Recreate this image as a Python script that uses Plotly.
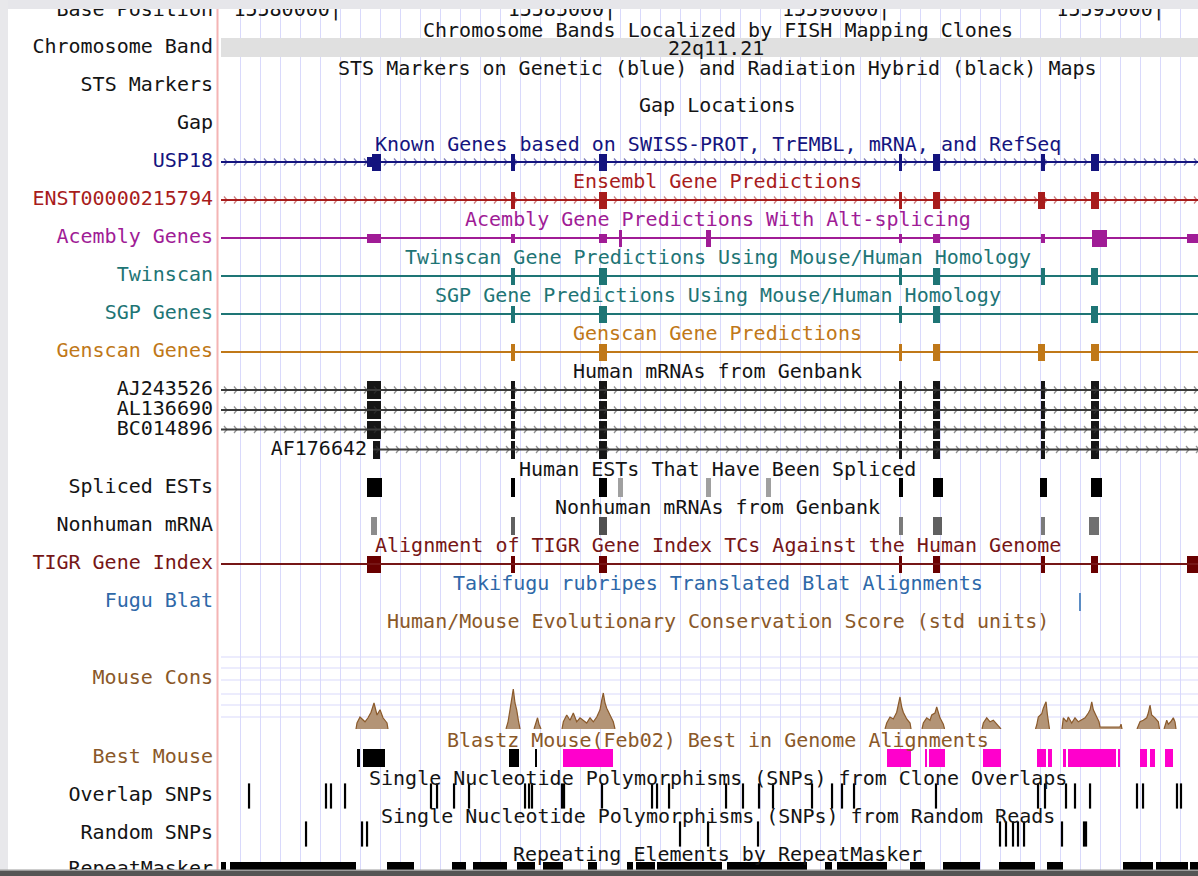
import plotly.graph_objects as go

# ---------------- page geometry ----------------
FIG_W, FIG_H = 1198, 876
PANEL_PX = 221            # first pixel column of the track panel
LABEL_RIGHT_PX = 213      # labels are right-aligned here
TITLE_CENTER_PX = 717.5   # track titles are centred here
X_LEFT, X_RIGHT = 15577907, 15595716          # chr22 window shown (bp)
BP_PER_PX = (X_RIGHT - X_LEFT) / (FIG_W - PANEL_PX)

FONT = "DejaVu Sans Mono"
FS = 20

INK = "#141414"
NAVY = "#14147e"
ENS = "#a81c1c"
ACE = "#a01c96"
TEAL = "#1e7575"
GSC = "#c07818"
TIGR = "#761616"
FUGU = "#2e68a8"
BROWN = "#8a5828"
GRID = "#d9d9fb"
MAGENTA = "#ff00cc"

# ---------------- data ----------------
ruler_ticks = [15580000, 15585000, 15590000, 15595000]
band_name = "22q11.21"
band_span = [15570000, 15600000]

# Known Genes: USP18 (thin = UTR, thick = CDS)
usp18_span = [15577000, 15597000]
usp18_starts = [15580569, 15580660, 15583194, 15584798, 15590266, 15590886, 15592854, 15593766]
usp18_ends = [15580660, 15580824, 15583267, 15584943, 15590321, 15591013, 15592927, 15593912]
usp18_thick = [0, 1, 1, 1, 1, 1, 1, 1]

# Ensembl prediction ENST00000215794
ens_span = [15577000, 15597000]
ens_starts = [15583194, 15584798, 15590266, 15590886, 15592800, 15593766]
ens_ends = [15583267, 15584943, 15590321, 15591013, 15592927, 15593912]

# Acembly (alt-spliced)
ace_span = [15577000, 15597000]
ace_starts = [15580569, 15583194, 15584798, 15585162, 15586748, 15590266, 15590886, 15592854, 15593784, 15595516]
ace_ends = [15580824, 15583267, 15584943, 15585217, 15586839, 15590321, 15591013, 15592927, 15594057, 15595900]
ace_thick = [0, 0, 0, 1, 1, 0, 0, 0, 1, 0]

# Twinscan
twin_span = [15577000, 15597000]
twin_starts = [15583194, 15584798, 15590266, 15590886, 15592854, 15593766]
twin_ends = [15583267, 15584943, 15590321, 15591013, 15592927, 15593893]

# SGP
sgp_span = [15577000, 15597000]
sgp_starts = [15583194, 15584798, 15590266, 15590886, 15593766]
sgp_ends = [15583267, 15584943, 15590321, 15591013, 15593893]

# Genscan
gsc_span = [15577000, 15597000]
gsc_starts = [15583194, 15584798, 15590266, 15590886, 15592800, 15593766]
gsc_ends = [15583267, 15584943, 15590321, 15591013, 15592927, 15593912]

# Human mRNAs from Genbank
mrna_names = ["AJ243526", "AL136690", "BC014896"]
mrna_span = [15577000, 15597000]
mrna_starts = [15580569, 15583194, 15584798, 15590266, 15590886, 15592854, 15593766]
mrna_ends = [15580824, 15583267, 15584943, 15590321, 15591013, 15592927, 15593912]
af_name = "AF176642"
af_span = [15580678, 15597000]
af_starts = [15580678, 15583194, 15584798, 15590266, 15590886, 15592854, 15593766]
af_ends = [15580806, 15583267, 15584943, 15590321, 15591013, 15592927, 15593912]

# Spliced ESTs (shade = depth)
est_starts = [15580569, 15583194, 15584798, 15585144, 15586748, 15587842, 15590266, 15590886, 15592836, 15593766]
est_ends = [15580842, 15583267, 15584943, 15585235, 15586839, 15587933, 15590339, 15591068, 15592964, 15593966]
est_shade = ["#000000", "#000000", "#000000", "#a0a0a0", "#a0a0a0", "#a0a0a0", "#000000", "#000000", "#000000", "#000000"]

# Nonhuman mRNAs
nh_starts = [15580642, 15583194, 15584798, 15590266, 15590886, 15592854, 15593729]
nh_ends = [15580751, 15583267, 15584943, 15590339, 15591050, 15592927, 15593912]
nh_shade = ["#8c8c8c", "#606060", "#505050", "#7a7a7a", "#606060", "#7a7a7a", "#707070"]

# TIGR Gene Index
tigr_span = [15577000, 15597000]
tigr_starts = [15580569, 15583194, 15584798, 15590266, 15590886, 15592854, 15593766, 15595516]
tigr_ends = [15580824, 15583267, 15584943, 15590321, 15591013, 15592927, 15593893, 15595900]

# Fugu translated Blat hit
fugu_hits = [15593565]

# Human/Mouse conservation score (std units); None separates runs
cons_pos = [
    15580368, 15580386, 15580441, 15580532, 15580587, 15580642, 15580696, 15580751, 15580806, 15580860, 15580933, 15580951, None,
    15583102, 15583139, 15583175, 15583206, 15583235, 15583266, 15583297, 15583327, 15583358, None,
    15583613, 15583649, 15583677, 15583704, 15583740, None,
    15584123, 15584147, 15584209, 15584269, 15584329, 15584391, 15584451, 15584511, 15584573, 15584634, 15584694,
    15584756, 15584816, 15584847, 15584876, 15584907, 15584938, 15584998, 15585058, 15585089, None,
    15590011, 15590042, 15590102, 15590162, 15590224, 15590253, 15590284, 15590315, 15590344, 15590406, 15590467, 15590485, None,
    15590685, 15590709, 15590771, 15590831, 15590862, 15590922, 15590953, 15590982, 15591013, 15591074, 15591096, None,
    15591779, 15591803, 15591865, 15591925, 15591985, 15592047, 15592107, 15592125, None,
    15592754, 15592776, 15592805, 15592867, 15592896, 15592946, 15592969, 15592987, 15593009, None,
    15593237, 15593261, 15593323, 15593352, 15593414, 15593474, 15593534, 15593596, 15593657, 15593717, 15593748,
    15593779, 15593808, 15593870, 15593912, 15593930, 15594294, 15594313, 15594331, None,
    15594604, 15594628, 15594659, 15594719, 15594781, 15594810, 15594841, 15594872, 15594932, 15594993, 15595015, None,
    15595097, 15595115, 15595146, 15595175, 15595219, 15595266, 15595297, 15595315,
]
cons_score = [
    0, 0.75, 1.5, 0.9, 1.4, 2.1, 3.25, 1.75, 2.4, 1.4, 0.75, 0, None,
    0, 0.9, 2.4, 3.6, 5.0, 3.25, 2.4, 1.1, 0, None,
    0, 0.75, 1.4, 0.6, 0, None,
    0, 0.9, 1.75, 1.1, 2.0, 0.9, 1.4, 1.1, 0.75, 1.4, 0.9,
    1.5, 2.4, 3.6, 4.5, 3.25, 2.6, 1.75, 0.9, 0, None,
    0, 0.75, 1.5, 1.25, 2.1, 3.0, 4.0, 2.75, 2.1, 1.25, 0.75, 0, None,
    0, 0.75, 1.4, 1.1, 1.75, 2.0, 2.75, 2.0, 1.4, 0.6, 0, None,
    0, 0.75, 1.4, 0.9, 1.1, 0.6, 0.25, 0, None,
    0, 0.5, 1.5, 1.9, 2.6, 3.4, 1.9, 0.75, 0, None,
    0, 1.4, 0.9, 1.5, 0.75, 1.4, 0.9, 1.1, 1.4, 2.0, 2.4,
    3.4, 2.4, 1.5, 0.9, 0.25, 0.25, 0.6, 0, None,
    0, 0.5, 0.9, 1.1, 1.4, 2.0, 3.0, 1.75, 1.4, 0.9, 0, None,
    0, 0.4, 1.1, 0.6, 0.9, 1.4, 0.9, 0,
]

# Blastz best mouse alignments
best_black_starts = [15580386, 15580496, 15583157, 15583631]
best_black_ends = [15580441, 15580897, 15583339, 15583667]
best_mag_starts = [15584141, 15590047, 15590740, 15590813, 15591797, 15592782, 15592982, 15593255, 15593347,
                   15594258, 15594659, 15594841, 15595115]
best_mag_ends = [15585053, 15590485, 15590776, 15591105, 15592125, 15592946, 15593055, 15593310, 15594222,
                 15594294, 15594787, 15594932, 15595261]

# SNPs
snp_overlap = [15578418, 15579821, 15579912, 15580168, 15581735, 15581845, 15582155, 15582428, 15583449, 15583522,
               15583576, 15584123, 15584160, 15584852, 15585764, 15585855, 15586074, 15587113, 15587422, 15587714,
               15587969, 15588680, 15589045, 15589227, 15589446, 15590940, 15592800, 15592927, 15593310, 15593474,
               15593748, 15594604, 15594714, 15595333, 15595406]
snp_random = [15579457, 15580478, 15580569, 15586274, 15586785, 15587696, 15592107, 15592216, 15592344, 15592435,
              15592545, 15593237, 15593638, 15593675]

# RepeatMasker elements
rmsk_starts = [15577907, 15578071, 15580933, 15582118, 15582501, 15583303, 15583777, 15584597, 15585308, 15585472,
               15585855, 15587131, 15588917, 15589136, 15590467, 15591068, 15592089, 15592964, 15594349, 15594951,
               15595570]
rmsk_ends = [15577999, 15580368, 15581425, 15582373, 15583121, 15583631, 15584141, 15584761, 15585417, 15585818,
             15587040, 15588589, 15589045, 15590047, 15590740, 15591742, 15592745, 15593255, 15594896, 15595534,
             15595900]

# ---------------- track layout (pixel rows) ----------------
ROW = dict(ruler=10.5, band=47.5, usp18=162, ens=200, ace=238, twin=276, sgp=314, gsc=352,
           mrna=[390, 410, 429.5], af=449.5, est=487.5, nh=526, tigr=564, fugu=602,
           cons_base=729, cons_top=689, best=758, snp1=796, snp2=834, rmsk=869)

labels = [
    ("Base Position", 10.5, INK), ("Chromosome Band", 47.5, INK), ("STS Markers", 86, INK),
    ("Gap", 123.5, INK), ("USP18", 162, NAVY), ("ENST00000215794", 200, ENS),
    ("Acembly Genes", 238, ACE), ("Twinscan", 276, TEAL), ("SGP Genes", 314, TEAL),
    ("Genscan Genes", 352, GSC), (mrna_names[0], 390, INK), (mrna_names[1], 410, INK),
    (mrna_names[2], 429.5, INK), ("Spliced ESTs", 487.5, INK), ("Nonhuman mRNA", 526, INK),
    ("TIGR Gene Index", 564, TIGR), ("Fugu Blat", 602, FUGU), ("Mouse Cons", 679, BROWN),
    ("Best Mouse", 758, BROWN), ("Overlap SNPs", 796, INK), ("Random SNPs", 834, INK),
    ("RepeatMasker", 870, INK),
]

titles = [
    ("Chromosome Bands Localized by FISH Mapping Clones", 29.5, INK),
    ("STS Markers on Genetic (blue) and Radiation Hybrid (black) Maps", 67.5, INK),
    ("Gap Locations", 105, INK),
    ("Known Genes based on SWISS-PROT, TrEMBL, mRNA, and RefSeq", 143.5, NAVY),
    ("Ensembl Gene Predictions", 181, ENS),
    ("Acembly Gene Predictions With Alt-splicing", 219, ACE),
    ("Twinscan Gene Predictions Using Mouse/Human Homology", 257, TEAL),
    ("SGP Gene Predictions Using Mouse/Human Homology", 295, TEAL),
    ("Genscan Gene Predictions", 333, GSC),
    ("Human mRNAs from Genbank", 371, INK),
    ("Human ESTs That Have Been Spliced", 469, INK),
    ("Nonhuman mRNAs from Genbank", 507, INK),
    ("Alignment of TIGR Gene Index TCs Against the Human Genome", 545, TIGR),
    ("Takifugu rubripes Translated Blat Alignments", 583, FUGU),
    ("Human/Mouse Evolutionary Conservation Score (std units)", 621, BROWN),
    ("Blastz Mouse(Feb02) Best in Genome Alignments", 740, BROWN),
    ("Single Nucleotide Polymorphisms (SNPs) from Clone Overlaps", 778, INK),
    ("Single Nucleotide Polymorphisms (SNPs) from Random Reads", 816, INK),
    ("Repeating Elements by RepeatMasker", 854, INK),
]

fig = go.Figure()


def px(n):
    """Screen pixels expressed in bp along the x axis."""
    return n * BP_PER_PX


def blocks(starts, ends, y, heights, colors):
    n = len(starts)
    if not isinstance(heights, list):
        heights = [heights] * n
    fig.add_trace(go.Bar(
        orientation="h", base=starts, x=[e - s for s, e in zip(starts, ends)],
        y=[y] * n, width=heights, marker=dict(color=colors, line=dict(width=0)),
        hoverinfo="skip"))


def backbone(span, y, color, chevrons=False, width=2):
    fig.add_trace(go.Scatter(x=span, y=[y, y], mode="lines",
                             line=dict(color=color, width=width), hoverinfo="skip"))
    if chevrons:
        xs, ys = [], []
        p = max(span[0], X_LEFT) + px(6)
        step, dx, dy = px(10), px(3), 3.5
        while p < min(span[1], X_RIGHT + px(10)):
            xs += [p - dx, p, p - dx, None]
            ys += [y - dy, y, y + dy, None]
            p += step
        fig.add_trace(go.Scatter(x=xs, y=ys, mode="lines", opacity=0.55,
                                 line=dict(color=color, width=1.3), hoverinfo="skip"))


def gene(span, starts, ends, y, color, thick=None, chevrons=False, hi=17, lo=10):
    backbone(span, y, color, chevrons)
    if thick is None:
        thick = [1] * len(starts)
    blocks(starts, ends, y, [hi if t else lo for t in thick], color)


# chromosome band
blocks([band_span[0]], [band_span[1]], ROW["band"], 19, "#e0e0e0")

# gene tracks
gene(usp18_span, usp18_starts, usp18_ends, ROW["usp18"], NAVY, usp18_thick, chevrons=True)
gene(ens_span, ens_starts, ens_ends, ROW["ens"], ENS, chevrons=True)
gene(ace_span, ace_starts, ace_ends, ROW["ace"], ACE, ace_thick, lo=9)
gene(twin_span, twin_starts, twin_ends, ROW["twin"], TEAL)
gene(sgp_span, sgp_starts, sgp_ends, ROW["sgp"], TEAL)
gene(gsc_span, gsc_starts, gsc_ends, ROW["gsc"], GSC)
for y in ROW["mrna"]:
    backbone(mrna_span, y, "#3a3a3a", chevrons=True)
    blocks(mrna_starts, mrna_ends, y, 18, "#161616")
backbone(af_span, ROW["af"], "#3a3a3a", chevrons=True)
blocks(af_starts, af_ends, ROW["af"], 18, "#161616")
fig.add_trace(go.Scatter(x=[af_span[0] - px(6)], y=[ROW["af"]], mode="text", text=[af_name],
                         textposition="middle left", cliponaxis=False,
                         textfont=dict(family=FONT, size=FS, color=INK), hoverinfo="skip"))

# ESTs / nonhuman mRNAs
blocks(est_starts, est_ends, ROW["est"], 19, est_shade)
blocks(nh_starts, nh_ends, ROW["nh"], 18, nh_shade)

# TIGR
backbone(tigr_span, ROW["tigr"], TIGR)
blocks(tigr_starts, tigr_ends, ROW["tigr"], 17, "#690000")

# Fugu
for h in fugu_hits:
    fig.add_trace(go.Scatter(x=[h, h], y=[ROW["fugu"] - 9, ROW["fugu"] + 9], mode="lines",
                             line=dict(color="#5b8cc4", width=2), hoverinfo="skip"))

# conservation wiggle
fig.add_trace(go.Scatter(x=cons_pos, y=cons_score, mode="lines", fill="tozeroy",
                         fillcolor="#b39476", line=dict(color="#8b5a2b", width=1.2),
                         connectgaps=False, xaxis="x", yaxis="y2", cliponaxis=False,
                         hoverinfo="skip"))

# Blastz best mouse
blocks(best_black_starts, best_black_ends, ROW["best"], 18, "#000000")
blocks(best_mag_starts, best_mag_ends, ROW["best"], 18, MAGENTA)

# SNPs
for pos, y in ((snp_overlap, ROW["snp1"]), (snp_random, ROW["snp2"])):
    fig.add_trace(go.Scatter(x=pos, y=[y] * len(pos), mode="markers",
                             marker=dict(symbol="line-ns", size=18,
                                         line=dict(color="#000000", width=2.2)),
                             hoverinfo="skip"))

# RepeatMasker
blocks(rmsk_starts, rmsk_ends, ROW["rmsk"], 14, "#000000")

# base position ruler
fig.add_trace(go.Scatter(x=[t + px(6) for t in ruler_ticks], y=[ROW["ruler"]] * len(ruler_ticks),
                         mode="text", text=[f"{t}|" for t in ruler_ticks],
                         textposition="middle left", cliponaxis=False,
                         textfont=dict(family=FONT, size=FS, color=INK), hoverinfo="skip"))

# track labels (left panel)
fig.add_trace(go.Scatter(x=[LABEL_RIGHT_PX] * len(labels), y=[l[1] for l in labels],
                         mode="text", text=[l[0] for l in labels], textposition="middle left",
                         textfont=dict(family=FONT, size=FS, color=[l[2] for l in labels]),
                         xaxis="x2", yaxis="y", cliponaxis=False, hoverinfo="skip"))

annotations = [dict(text=t, x=TITLE_CENTER_PX / FIG_W, xref="paper", y=y, yref="y",
                    xanchor="center", yanchor="middle", showarrow=False,
                    font=dict(family=FONT, size=FS, color=c)) for t, y, c in titles]
annotations.append(dict(text=band_name, x=716 / FIG_W, xref="paper", y=ROW["band"], yref="y",
                        xanchor="center", yanchor="middle", showarrow=False,
                        font=dict(family=FONT, size=FS, color=INK)))

shapes = []
# horizontal guides in the conservation track
for gy in (657, 668, 680, 694, 705, 717):
    shapes.append(dict(type="line", xref="paper", x0=PANEL_PX / FIG_W, x1=1, yref="y", y0=gy, y1=gy,
                       line=dict(color=GRID, width=1), layer="below"))
# panel divider
shapes.append(dict(type="line", xref="paper", yref="paper", x0=217.5 / FIG_W, x1=217.5 / FIG_W,
                   y0=0, y1=1, line=dict(color="#f4b4b4", width=2), layer="above"))
# window frame
shapes.append(dict(type="rect", xref="paper", yref="paper", x0=0, x1=1, y0=1 - 9 / FIG_H, y1=1,
                   fillcolor="#e6e6ea", line=dict(width=0), layer="above"))
shapes.append(dict(type="rect", xref="paper", yref="paper", x0=0, x1=8 / FIG_W, y0=0, y1=1,
                   fillcolor="#e8e8eb", line=dict(width=0), layer="above"))
shapes.append(dict(type="rect", xref="paper", yref="paper", x0=0, x1=1, y0=5 / FIG_H, y1=6.5 / FIG_H,
                   fillcolor="#9c9c9c", line=dict(width=0), layer="above"))
shapes.append(dict(type="rect", xref="paper", yref="paper", x0=0, x1=1, y0=0, y1=5 / FIG_H,
                   fillcolor="#555555", line=dict(width=0), layer="above"))

fig.update_layout(
    width=FIG_W, height=FIG_H, margin=dict(l=0, r=0, t=0, b=0, pad=0),
    paper_bgcolor="white", plot_bgcolor="rgba(0,0,0,0)",
    showlegend=False, barmode="overlay", bargap=0,
    font=dict(family=FONT, size=FS, color=INK),
    xaxis=dict(domain=[PANEL_PX / FIG_W, 1], range=[X_LEFT, X_RIGHT], showgrid=True,
               gridcolor=GRID, gridwidth=1, tick0=X_LEFT + px(19), dtick=px(20),
               showticklabels=False, ticks="", zeroline=False, showline=False, anchor="y"),
    xaxis2=dict(domain=[0, PANEL_PX / FIG_W], range=[0, PANEL_PX], visible=False, anchor="y"),
    yaxis=dict(domain=[0, 1], range=[FIG_H, 0], visible=False, anchor="x"),
    yaxis2=dict(domain=[1 - ROW["cons_base"] / FIG_H, 1 - ROW["cons_top"] / FIG_H], range=[0, 5],
                visible=False, anchor="x"),
    annotations=annotations, shapes=shapes,
)

fig.write_html("out.html")
